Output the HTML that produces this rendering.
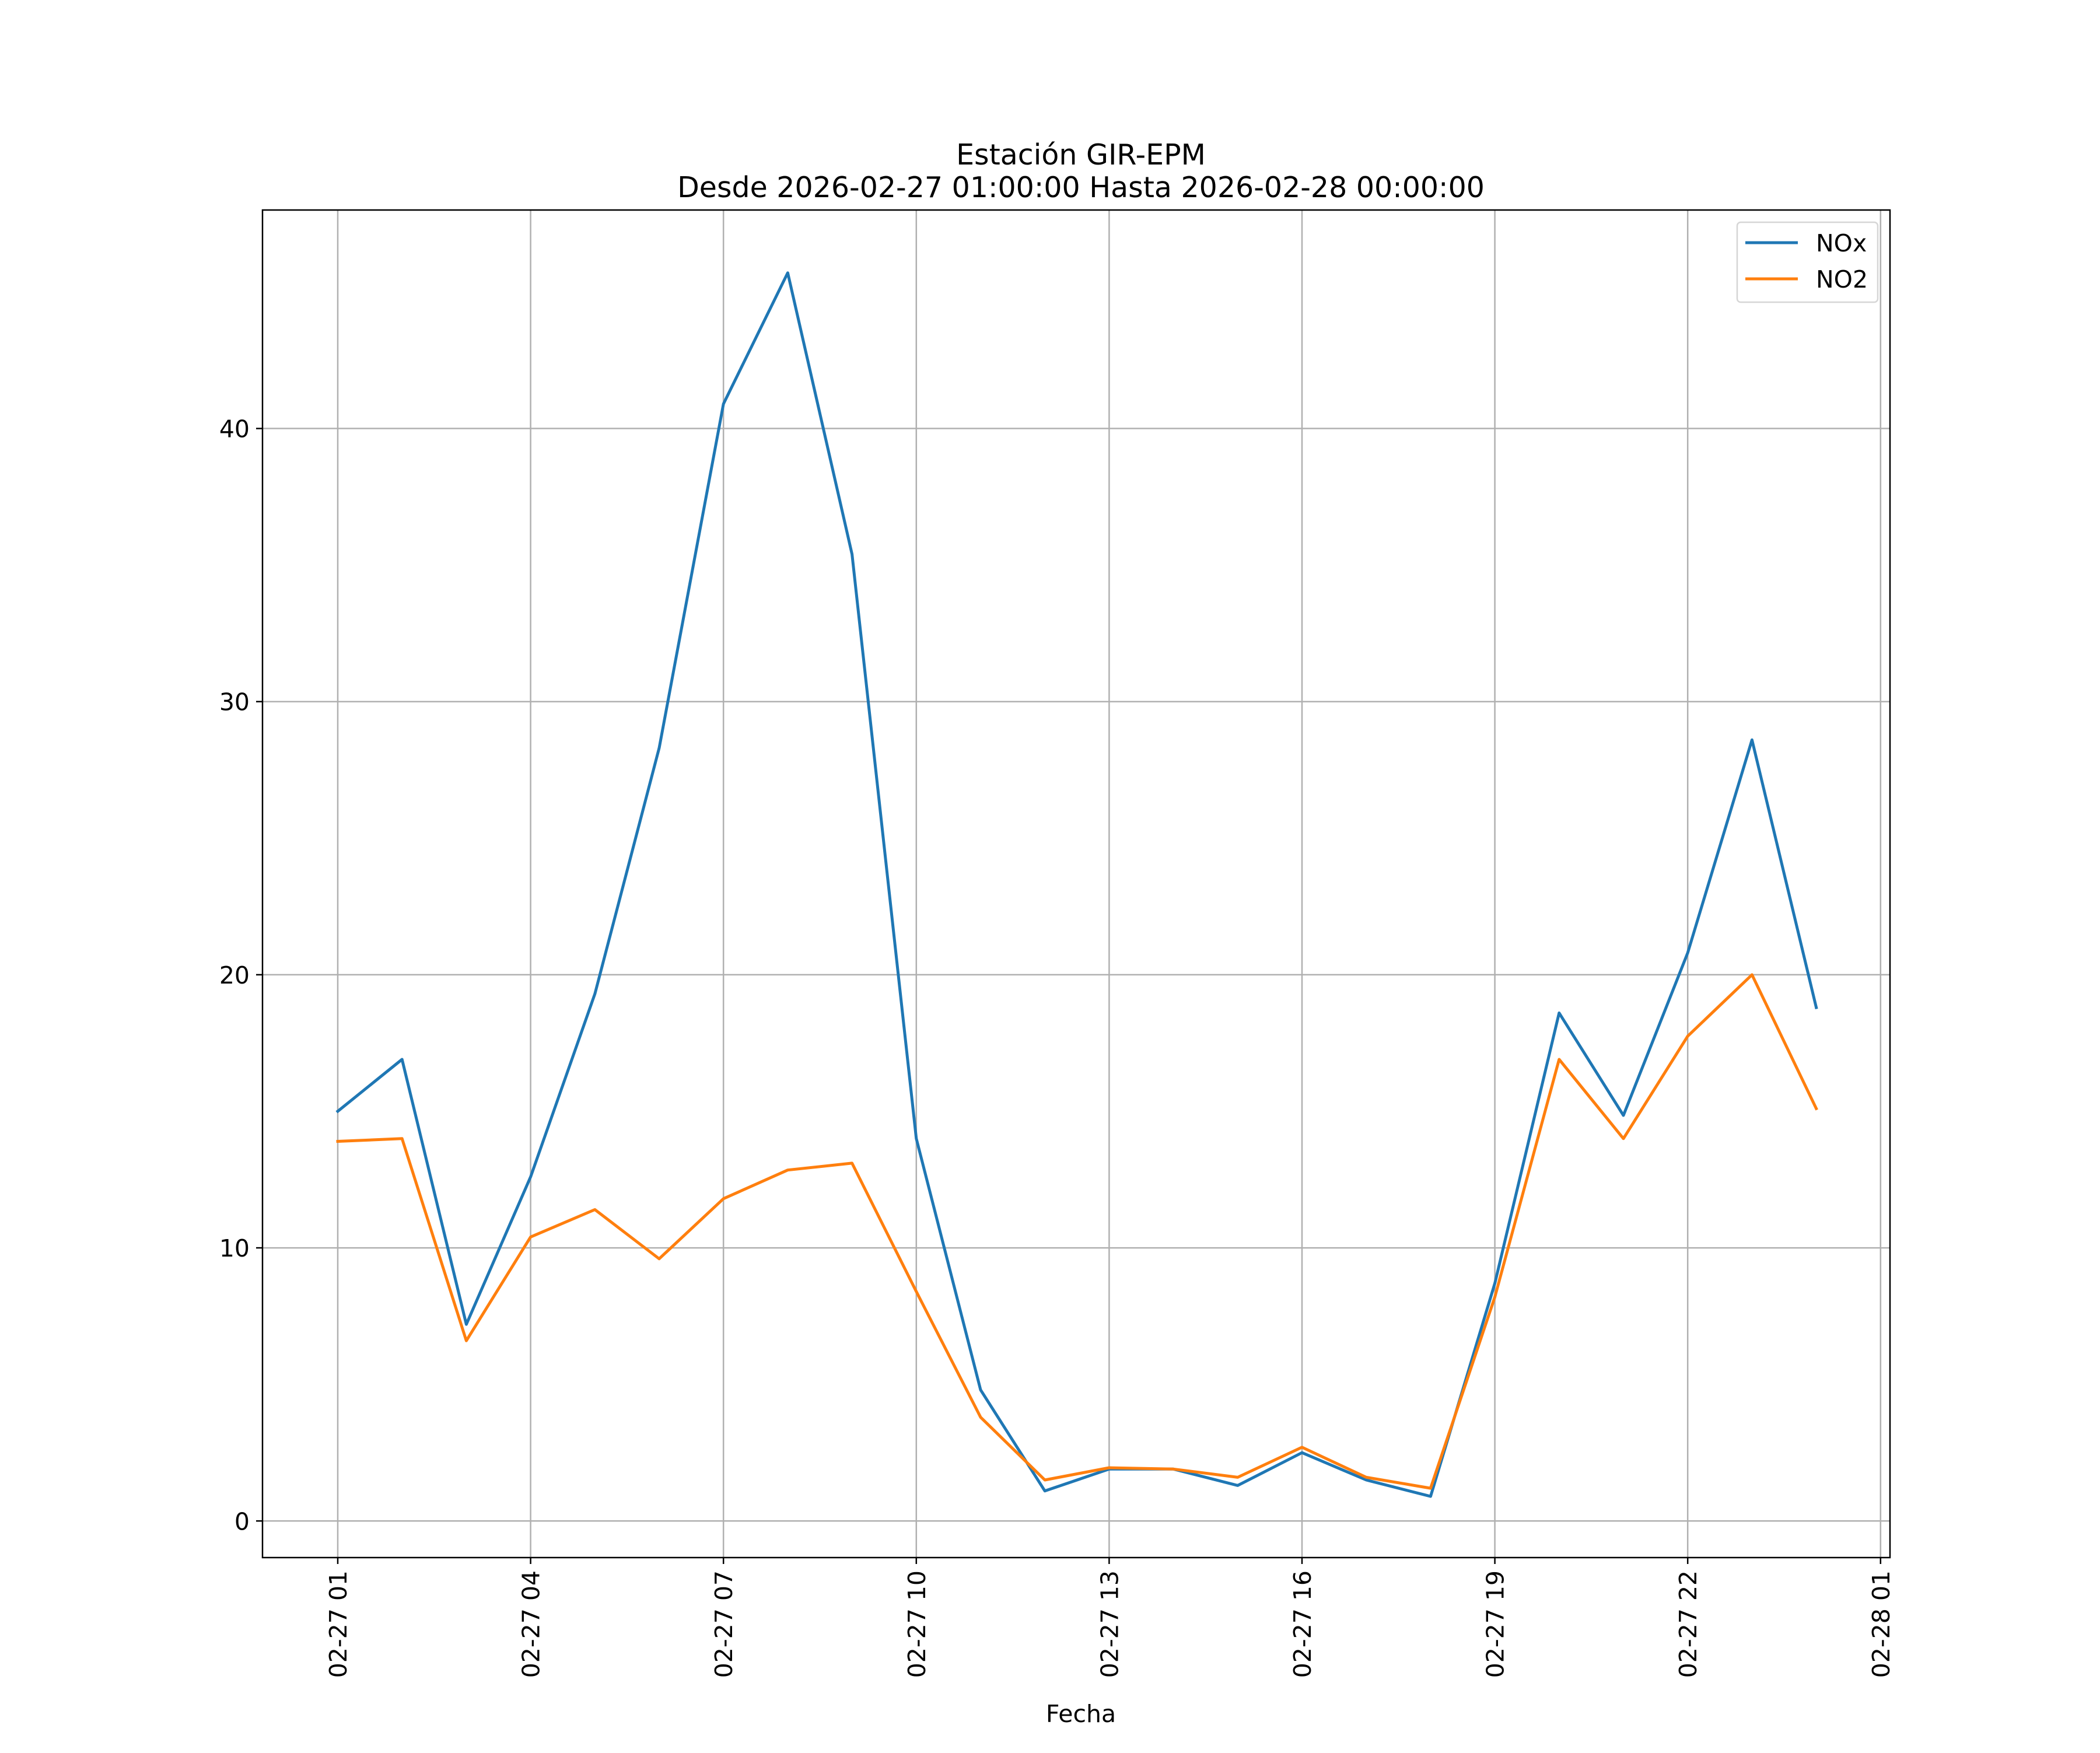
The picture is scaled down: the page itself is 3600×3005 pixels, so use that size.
<!DOCTYPE html>
<html><head><meta charset="utf-8"><style>
body{margin:0;background:#fff}
svg text{font-family:"DejaVu Sans","Liberation Sans",sans-serif;fill:#000}
</style></head><body>
<svg id="chart" width="3600" height="3000" viewBox="0 0 3600 3000" xmlns="http://www.w3.org/2000/svg">
<rect width="3600" height="3000" fill="#fff"/>
<text x="1853" y="282" font-size="49" text-anchor="middle">Estación GIR-EPM</text>
<text x="1853" y="338" font-size="49" text-anchor="middle">Desde 2026-02-27 01:00:00 Hasta 2026-02-28 00:00:00</text>
<g id="grid"></g>
<g id="series"></g>
<rect x="450" y="360" width="2790" height="2310" fill="none" stroke="#000" stroke-width="2.5"/>
<g id="ticks"></g>
<text x="1853" y="2952" font-size="41" text-anchor="middle">Fecha</text>
<g>
<rect x="2978" y="381" width="241" height="137" rx="6" fill="#fff" fill-opacity="0.8" stroke="#d6d6d6" stroke-width="2.5"/>
<line x1="2992" y1="416" x2="3082" y2="416" stroke="#1f77b4" stroke-width="5"/>
<text x="3113" y="431" font-size="41">NOx</text>
<line x1="2992" y1="478" x2="3082" y2="478" stroke="#ff7f0e" stroke-width="5"/>
<text x="3113" y="493" font-size="41">NO2</text>
</g>
</svg>
<script>
const hours = [1,2,3,4,5,6,7,8,9,10,11,12,13,14,15,16,17,18,19,20,21,22,23,24];
const noxValues = [15.0,16.9,7.2,12.6,19.3,28.3,40.9,45.7,35.4,14.0,4.8,1.1,1.9,1.9,1.3,2.5,1.5,0.9,8.7,18.6,14.85,20.8,28.6,18.8];
const no2Values = [13.9,14.0,6.6,10.4,11.4,9.6,11.8,12.85,13.1,8.4,3.8,1.5,1.95,1.9,1.6,2.7,1.6,1.2,8.2,16.9,14.0,17.75,20.0,15.1];
const xTickHours = [1,4,7,10,13,16,19,22,25];
const xTickLabels = ["02-27 01","02-27 04","02-27 07","02-27 10","02-27 13","02-27 16","02-27 19","02-27 22","02-28 01"];
const yTicks = [0,10,20,30,40];

const NS="http://www.w3.org/2000/svg";
const X0=450,X1=3240,Y0=360,Y1=2670;
function xs(h){return 579+(h-1)*110.2;}
const yMin=-1.34,yMax=48.0;
function ys(v){return Y1-(v-yMin)/(yMax-yMin)*(Y1-Y0);}
function mk(tag,attrs,parent){const e=document.createElementNS(NS,tag);for(const k in attrs)e.setAttribute(k,attrs[k]);parent.appendChild(e);return e;}
const grid=document.getElementById('grid'),ticks=document.getElementById('ticks'),series=document.getElementById('series');
xTickHours.forEach((h,i)=>{
  const x=xs(h);
  const g=mk('line',{x1:x,y1:Y0,x2:x,y2:Y1,stroke:'#b0b0b0','stroke-width':2.5},grid);
  
  
  const t=mk('line',{x1:x,y1:Y1,x2:x,y2:Y1+11,stroke:'#000','stroke-width':2.5},ticks);
  
  
  const lb=mk('text',{x:0,y:0,'font-size':41,'text-anchor':'end',transform:`translate(${x+15},${Y1+22}) rotate(-90)`},ticks);
  lb.textContent=xTickLabels[i];
  
  
});
yTicks.forEach(v=>{
  const y=ys(v);
  const g=mk('line',{x1:X0,y1:y,x2:X1,y2:y,stroke:'#b0b0b0','stroke-width':2.5},grid);
  
  
  const t=mk('line',{x1:X0-11,y1:y,x2:X0,y2:y,stroke:'#000','stroke-width':2.5},ticks);
  
  
  const lb=mk('text',{x:X0-22,y:y+15,'font-size':41,'text-anchor':'end'},ticks);
  lb.textContent=String(v);
  
  
});
function line(vals,color,name){
  const pts=hours.map((h,i)=>xs(h).toFixed(1)+','+ys(vals[i]).toFixed(1)).join(' ');
  const p=mk('polyline',{points:pts,fill:'none',stroke:color,'stroke-width':5,'stroke-linejoin':'round','stroke-linecap':'square'},series);
  
  
}
line(noxValues,'#1f77b4','nox-line');
line(no2Values,'#ff7f0e','no2-line');
</script>
</body></html>
